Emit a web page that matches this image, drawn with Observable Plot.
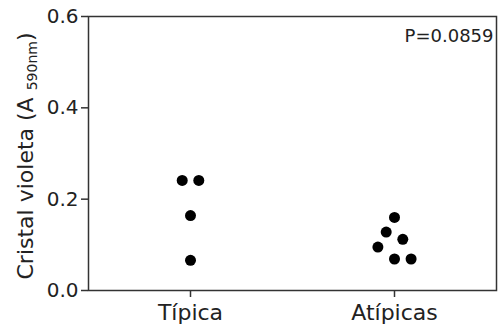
<!DOCTYPE html>
<html>
<head>
<meta charset="utf-8">
<script src="https://cdn.jsdelivr.net/npm/d3@7"></script>
<script src="https://cdn.jsdelivr.net/npm/@observablehq/plot@0.6"></script>
<style>
  html, body { margin: 0; padding: 0; background: #fff; }
  #chart svg { display: block; }
</style>
</head>
<body>
<div id="chart"></div>
<script>
const groups = ["Típica", "Atípicas"];
const tipica = [0.241, 0.241, 0.164, 0.066];
const tipicaSlot = [-1, 1, 0, 0];
const atipicas = [0.160, 0.128, 0.112, 0.095, 0.069, 0.069];
const atipicasSlot = [0, -1, 1, -2, 0, 2];
const yTicks = [0, 0.2, 0.4, 0.6];
const pLabel = "P=0.0859";
const yLabelMain = "Cristal violeta (A ";
const yLabelSub = "590nm";
const yLabelEnd = ")";

const points = [
  ...tipica.map((v, i) => ({group: 0, value: v, slot: tipicaSlot[i]})),
  ...atipicas.map((v, i) => ({group: 1, value: v, slot: atipicasSlot[i]}))
];

const W = 498, H = 332;
const mL = 88, mR = 2, mT = 16, mB = 42;
const slotW = 8.3 / ((W - mL - mR) / 2); // half-dot column spacing in x units

const ink = "#222";

const svg = Plot.plot({
  width: W,
  height: H,
  marginLeft: mL,
  marginRight: mR,
  marginTop: mT,
  marginBottom: mB,
  style: {fontFamily: "DejaVu Sans", color: ink, background: "#fff", overflow: "visible"},
  x: {domain: [-0.5, 1.5], axis: null},
  y: {domain: [0, 0.6], axis: null},
  marks: [
    Plot.frame({stroke: "#333", strokeWidth: 1.5}),
    Plot.axisY({ticks: yTicks, tickFormat: d3.format(".1f"), tickSize: 7, tickPadding: 3, fontSize: 20, label: null, stroke: "#333", strokeWidth: 1.5}),
    Plot.axisX({ticks: [0, 1], tickFormat: i => groups[i], tickSize: 7, tickPadding: 7, fontSize: 22, label: null, stroke: "#333", strokeWidth: 1.5}),
    Plot.dot(points, {x: d => d.group + d.slot * slotW, y: "value", r: 5.5, fill: "#000", stroke: null}),
    Plot.text([pLabel], {frameAnchor: "top-right", textAnchor: "end", dx: -3, dy: 13, fontSize: 18, fill: ink})
  ]
});

// y-axis title with subscript
const t = d3.select(svg).append("text")
  .attr("transform", `translate(33,${(mT + H - mB) / 2 + 3}) rotate(-90)`)
  .attr("text-anchor", "middle")
  .attr("font-family", "DejaVu Sans")
  .attr("font-size", 22)
  .attr("fill", ink);
t.append("tspan").text(yLabelMain);
t.append("tspan").attr("font-size", 14).attr("dy", 4).text(yLabelSub);
t.append("tspan").attr("dy", -4).text(yLabelEnd);

document.getElementById("chart").appendChild(svg);
</script>
</body>
</html>
